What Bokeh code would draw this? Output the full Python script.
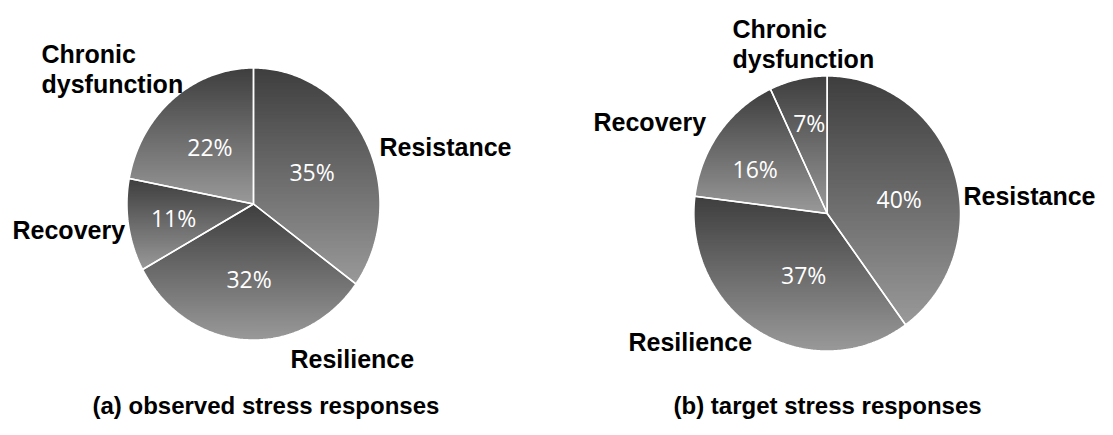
import math
from bokeh.plotting import figure
from bokeh.models import Range1d, ColumnDataSource
from bokeh.core.properties import value
from bokeh.embed import file_html
from bokeh.resources import INLINE

# ---------------- data ----------------
categories = ["Resistance", "Resilience", "Recovery", "Chronic dysfunction"]
observed = [35, 32, 11, 22]
target = [40, 37, 16, 7]
panel_titles = ["(a) observed stress responses", "(b) target stress responses"]

# ---------------- layout (pixel space of the canvas) ----------------
W, H = 1097, 419
pies = [
    dict(values=observed, title=panel_titles[0], cx=253.0, cy=203.5, rx=126.5, ry=136.0,
         title_x=92, label_pos=[(379, 155), (290, 367), (12, 238), (41, 62)],
         pct_r=[0.52, 0.55, 0.64, 0.54], pct_shift=[0, 0, 0, 0]),
    dict(values=target, title=panel_titles[1], cx=826.7, cy=213.0, rx=133.3, ry=137.5,
         title_x=673, label_pos=[(963, 204), (628, 350), (593, 130), (732, 37)],
         pct_r=[0.55, 0.48, 0.63, 0.67], pct_shift=[7, -9, -5, 1]),
]
TITLE_BASELINE = 413
MID_OFFSET = 0.35          # em distance from baseline to text middle
LABEL_PX, TITLE_PX = 25, 24
TOP_GREY, BOT_GREY = 62, 153
N_BANDS = 60

p = figure(width=W, height=H, output_backend="svg", toolbar_location=None,
           x_range=Range1d(0, W), y_range=Range1d(H, 0),
           min_border=0, background_fill_color="white", border_fill_color="white")
p.axis.visible = False
p.grid.visible = False
p.outline_line_color = None


def ell(cx, cy, rx, ry, deg):
    t = math.radians(deg)
    return cx + rx * math.sin(t), cy - ry * math.cos(t)


def clip(poly, yc, keep_greater):
    out = []
    n = len(poly)
    for i in range(n):
        a = poly[i]
        b = poly[(i + 1) % n]
        ina = a[1] >= yc if keep_greater else a[1] <= yc
        inb = b[1] >= yc if keep_greater else b[1] <= yc
        if ina:
            out.append(a)
        if ina != inb:
            t = (yc - a[1]) / (b[1] - a[1])
            out.append((a[0] + t * (b[0] - a[0]), yc))
    return out


def grey(t):
    g = int(round(TOP_GREY + (BOT_GREY - TOP_GREY) * t))
    return "#%02x%02x%02x" % (g, g, g)


band_xs, band_ys, band_col = [], [], []
out_xs, out_ys = [], []
pct_x, pct_y, pct_t = [], [], []
lab_x, lab_y, lab_t = [], [], []
tit_x, tit_y, tit_t = [], [], []

for pie in pies:
    vals = pie["values"]
    total = float(sum(vals))
    cx, cy, rx, ry = pie["cx"], pie["cy"], pie["rx"], pie["ry"]
    start = 0.0
    for i, v in enumerate(vals):
        a0 = start
        a1 = start + 360.0 * v / total
        start = a1
        steps = max(4, int((a1 - a0) / 0.75))
        poly = [(cx, cy)] + [ell(cx, cy, rx, ry, a0 + (a1 - a0) * k / steps) for k in range(steps + 1)]
        ymin = min(q[1] for q in poly)
        ymax = max(q[1] for q in poly)
        for b in range(N_BANDS):
            y0 = ymin + (ymax - ymin) * b / N_BANDS
            y1 = ymin + (ymax - ymin) * (b + 1) / N_BANDS
            if b < N_BANDS - 1:
                y1 += 0.8
            part = clip(clip(poly, y0, True), y1, False)
            if len(part) >= 3:
                band_xs.append([q[0] for q in part])
                band_ys.append([q[1] for q in part])
                band_col.append(grey((b + 0.5) / N_BANDS))
        out_xs.append([q[0] for q in poly])
        out_ys.append([q[1] for q in poly])
        mid = (a0 + a1) / 2 + pie["pct_shift"][i]
        r = pie["pct_r"][i]
        px, py = ell(cx, cy, rx * r, ry * r, mid)
        pct_x.append(px)
        pct_y.append(py)
        pct_t.append("%d%%" % round(100 * v / total))
        lx, ly = pie["label_pos"][i]
        for j, line in enumerate(categories[i].split(" ")):
            lab_x.append(lx)
            lab_y.append(ly + 30 * j - MID_OFFSET * LABEL_PX)
            lab_t.append(line)
    tit_x.append(pie["title_x"])
    tit_y.append(TITLE_BASELINE - MID_OFFSET * TITLE_PX)
    tit_t.append(pie["title"])

p.patches(xs="xs", ys="ys", fill_color="c", line_color=None,
          source=ColumnDataSource(dict(xs=band_xs, ys=band_ys, c=band_col)))
p.patches(xs="xs", ys="ys", fill_color=None, line_color="white", line_width=1.5,
          source=ColumnDataSource(dict(xs=out_xs, ys=out_ys)))

p.text(x="x", y="y", text="t", source=ColumnDataSource(dict(x=pct_x, y=pct_y, t=pct_t)),
       text_color="white", text_font=value("Open Sans"), text_font_size="23px",
       text_align="center", text_baseline="middle")
p.text(x="x", y="y", text="t", source=ColumnDataSource(dict(x=lab_x, y=lab_y, t=lab_t)),
       text_color="black", text_font=value("Liberation Sans"), text_font_style="bold",
       text_font_size="%dpx" % LABEL_PX, text_align="left", text_baseline="middle")
p.text(x="x", y="y", text="t", source=ColumnDataSource(dict(x=tit_x, y=tit_y, t=tit_t)),
       text_color="black", text_font=value("Liberation Sans"), text_font_style="bold",
       text_font_size="%dpx" % TITLE_PX, text_align="left", text_baseline="middle")

open("out.html", "w").write(file_html(p, INLINE))
